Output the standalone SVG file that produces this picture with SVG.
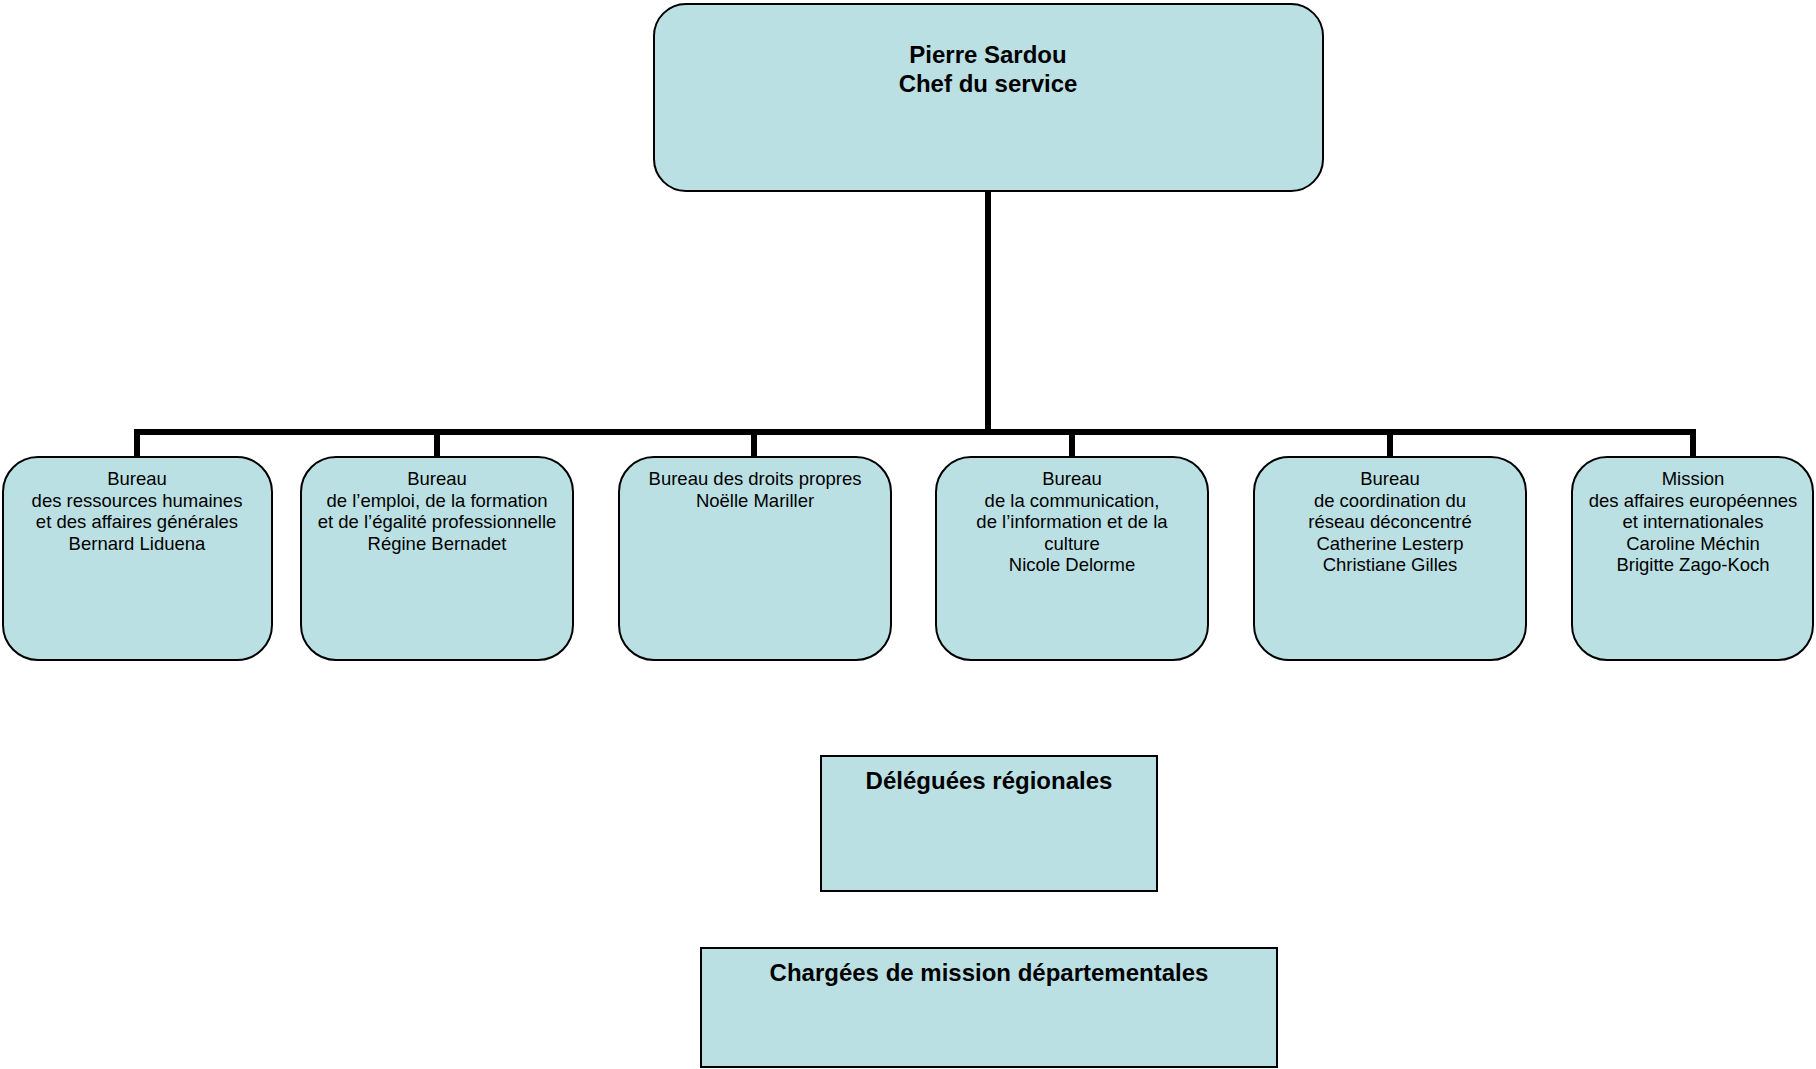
<svg xmlns="http://www.w3.org/2000/svg" width="1816" height="1069" viewBox="0 0 1816 1069">
<style>
.box{fill:#bbe0e3;stroke:#000;stroke-width:2}
.t{font-family:"Liberation Sans",Arial,sans-serif;font-size:18.5px;text-anchor:middle;fill:#000}
.b{font-family:"Liberation Sans",Arial,sans-serif;font-size:24px;font-weight:bold;text-anchor:middle;fill:#000}
.c{fill:none;stroke:#000;stroke-width:6}
</style>
<rect width="1816" height="1069" fill="#fff"/>
<g id="connectors">
<path class="c" d="M988 191V432"/>
<path class="c" d="M137 432H1693"/>
<path class="c" d="M137 429V457M437 429V457M754 429V457M1072 429V457M1390 429V457M1693 429V457"/>
</g>
<g id="chef">
<rect class="box" x="654" y="4" width="669" height="187" rx="32"/>
<text class="b" x="988" y="63">Pierre Sardou</text>
<text class="b" x="988" y="92">Chef du service</text>
</g>
<g id="rh">
<rect class="box" x="3" y="457" width="269" height="203" rx="35"/>
<text class="t" x="137"><tspan x="137" y="485">Bureau</tspan><tspan x="137" y="506.5">des ressources humaines</tspan><tspan x="137" y="528">et des affaires générales</tspan><tspan x="137" y="549.5">Bernard Liduena</tspan></text>
</g>
<g id="emploi">
<rect class="box" x="301" y="457" width="272" height="203" rx="35"/>
<text class="t" x="437"><tspan x="437" y="485">Bureau</tspan><tspan x="437" y="506.5">de l’emploi, de la formation</tspan><tspan x="437" y="528">et de l’égalité professionnelle</tspan><tspan x="437" y="549.5">Régine Bernadet</tspan></text>
</g>
<g id="droits">
<rect class="box" x="619" y="457" width="272" height="203" rx="35"/>
<text class="t" x="755"><tspan x="755" y="485">Bureau des droits propres</tspan><tspan x="755" y="506.5">Noëlle Mariller</tspan></text>
</g>
<g id="communication">
<rect class="box" x="936" y="457" width="272" height="203" rx="35"/>
<text class="t" x="1072"><tspan x="1072" y="485">Bureau</tspan><tspan x="1072" y="506.5">de la communication,</tspan><tspan x="1072" y="528">de l’information et de la</tspan><tspan x="1072" y="549.5">culture</tspan><tspan x="1072" y="571">Nicole Delorme</tspan></text>
</g>
<g id="reseau">
<rect class="box" x="1254" y="457" width="272" height="203" rx="35"/>
<text class="t" x="1390"><tspan x="1390" y="485">Bureau</tspan><tspan x="1390" y="506.5">de coordination du</tspan><tspan x="1390" y="528">réseau déconcentré</tspan><tspan x="1390" y="549.5">Catherine Lesterp</tspan><tspan x="1390" y="571">Christiane Gilles</tspan></text>
</g>
<g id="europe">
<rect class="box" x="1572" y="457" width="241" height="203" rx="35"/>
<text class="t" x="1693"><tspan x="1693" y="485">Mission</tspan><tspan x="1693" y="506.5">des affaires européennes</tspan><tspan x="1693" y="528">et internationales</tspan><tspan x="1693" y="549.5">Caroline Méchin</tspan><tspan x="1693" y="571">Brigitte Zago-Koch</tspan></text>
</g>
<g id="deleguees">
<rect class="box" x="821" y="756" width="336" height="135"/>
<text class="b" x="989" y="789">Déléguées régionales</text>
</g>
<g id="chargees">
<rect class="box" x="701" y="948" width="576" height="119"/>
<text class="b" x="989" y="981">Chargées de mission départementales</text>
</g>
</svg>
